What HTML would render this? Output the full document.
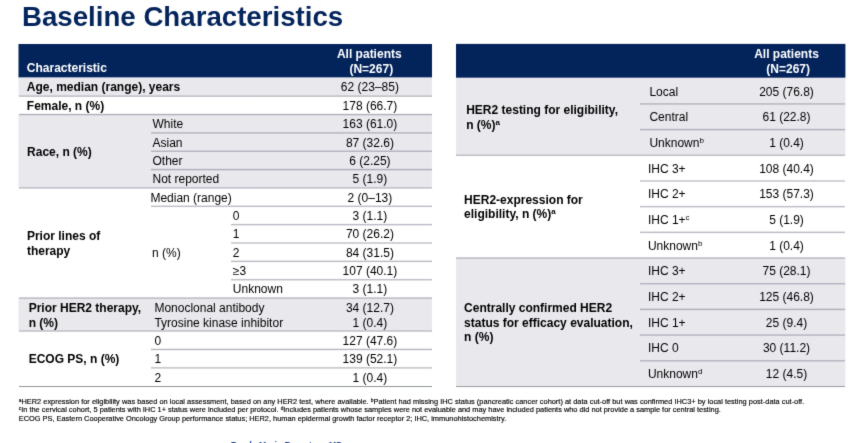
<!DOCTYPE html>
<html><head><meta charset="utf-8"><title>Baseline Characteristics</title>
<style>
html,body{margin:0;padding:0;background:#fff;}
body{width:857px;height:443px;overflow:hidden;position:relative;font-family:"Liberation Sans",Arial,sans-serif;color:#000;font-size:12px;line-height:14px;}
.abs{position:absolute;}
.t{position:absolute;white-space:nowrap;}
.b{font-weight:bold;}
.c{text-align:center;}
.ln{position:absolute;}/*#b2b4c0*/
.bg{position:absolute;background:#e9e8ed;}
.hd{position:absolute;background:#03245b;}
sup{font-size:8px;line-height:0;vertical-align:baseline;position:relative;top:-4.3px;}
.fn{position:absolute;left:18.8px;font-size:7.4px;line-height:8.3px;white-space:nowrap;color:#000;-webkit-text-stroke:0.15px #000;}
.fn sup{font-size:4.8px;top:-1.9px;}
h1{position:absolute;margin:0;left:21.5px;top:-1.4px;font-size:27px;line-height:36px;transform-origin:0 0;transform:scaleX(1.024);font-weight:bold;color:#03245b;white-space:nowrap;}
#pg{position:absolute;left:0;top:0;width:857px;height:443px;overflow:hidden;background:#fff;filter:url(#soft);}
</style></head><body><svg width="0" height="0" style="position:absolute"><filter id="soft" x="0" y="0" width="100%" height="100%" color-interpolation-filters="sRGB"><feConvolveMatrix order="3" kernelMatrix="0.0113 0.0838 0.0113 0.0838 0.6193 0.0838 0.0113 0.0838 0.0113" edgeMode="duplicate" preserveAlpha="true"/></filter></svg><div id="pg">

<h1>Baseline Characteristics</h1>
<svg class="abs" style="left:0;top:0" width="857" height="443"><rect x="18.50" y="44.00" width="413.50" height="33.60" fill="#03245b"/></svg>
<div class="t b" style="left:26.8px;top:61.00px;color:#fff;">Characteristic</div>
<div class="t b" style="left:309.3px;width:120px;top:47.00px;text-align:center;color:#fff;">All patients</div>
<div class="t b" style="left:311.3px;width:120px;top:62.00px;text-align:center;color:#fff;">(N=267)</div>
<svg class="abs" style="left:0;top:0" width="857" height="443"><rect x="18.50" y="77.60" width="413.50" height="18.35" fill="#e9e8ed"/></svg>
<svg class="abs" style="left:0;top:0" width="857" height="443"><rect x="18.50" y="114.30" width="413.50" height="73.40" fill="#e9e8ed"/></svg>
<svg class="abs" style="left:0;top:0" width="857" height="443"><rect x="18.50" y="297.80" width="413.50" height="33.00" fill="#e9e8ed"/></svg>
<div class="ln" style="left:18.5px;top:94px;width:413.5px;height:5px;background:linear-gradient(to bottom,rgba(118,120,138,0) 0.95px,rgba(118,120,138,0.56) 2.20px,rgba(118,120,138,0) 3.45px)"></div>
<div class="ln" style="left:18.5px;top:112px;width:413.5px;height:5px;background:linear-gradient(to bottom,rgba(118,120,138,0) 1.30px,rgba(118,120,138,0.56) 2.55px,rgba(118,120,138,0) 3.80px)"></div>
<div class="ln" style="left:150.7px;top:130px;width:281.3px;height:5px;background:linear-gradient(to bottom,rgba(118,120,138,0) 1.65px,rgba(118,120,138,0.56) 2.90px,rgba(118,120,138,0) 4.15px)"></div>
<div class="ln" style="left:150.7px;top:149px;width:281.3px;height:5px;background:linear-gradient(to bottom,rgba(118,120,138,0) 1.00px,rgba(118,120,138,0.56) 2.25px,rgba(118,120,138,0) 3.50px)"></div>
<div class="ln" style="left:150.7px;top:167px;width:281.3px;height:5px;background:linear-gradient(to bottom,rgba(118,120,138,0) 1.35px,rgba(118,120,138,0.56) 2.60px,rgba(118,120,138,0) 3.85px)"></div>
<div class="ln" style="left:18.5px;top:185px;width:413.5px;height:5px;background:linear-gradient(to bottom,rgba(118,120,138,0) 1.70px,rgba(118,120,138,0.56) 2.95px,rgba(118,120,138,0) 4.20px)"></div>
<div class="ln" style="left:150.7px;top:204px;width:281.3px;height:5px;background:linear-gradient(to bottom,rgba(118,120,138,0) 1.05px,rgba(118,120,138,0.56) 2.30px,rgba(118,120,138,0) 3.55px)"></div>
<div class="ln" style="left:231.0px;top:222px;width:201.0px;height:5px;background:linear-gradient(to bottom,rgba(118,120,138,0) 1.40px,rgba(118,120,138,0.56) 2.65px,rgba(118,120,138,0) 3.90px)"></div>
<div class="ln" style="left:231.0px;top:241px;width:201.0px;height:5px;background:linear-gradient(to bottom,rgba(118,120,138,0) 0.75px,rgba(118,120,138,0.56) 2.00px,rgba(118,120,138,0) 3.25px)"></div>
<div class="ln" style="left:231.0px;top:259px;width:201.0px;height:5px;background:linear-gradient(to bottom,rgba(118,120,138,0) 1.10px,rgba(118,120,138,0.56) 2.35px,rgba(118,120,138,0) 3.60px)"></div>
<div class="ln" style="left:231.0px;top:277px;width:201.0px;height:5px;background:linear-gradient(to bottom,rgba(118,120,138,0) 1.45px,rgba(118,120,138,0.56) 2.70px,rgba(118,120,138,0) 3.95px)"></div>
<div class="ln" style="left:18.5px;top:296px;width:413.5px;height:5px;background:linear-gradient(to bottom,rgba(118,120,138,0) 0.80px,rgba(118,120,138,0.56) 2.05px,rgba(118,120,138,0) 3.30px)"></div>
<div class="ln" style="left:18.5px;top:329px;width:413.5px;height:5px;background:linear-gradient(to bottom,rgba(118,120,138,0) 0.80px,rgba(118,120,138,0.56) 2.05px,rgba(118,120,138,0) 3.30px)"></div>
<div class="ln" style="left:150.7px;top:347px;width:281.3px;height:5px;background:linear-gradient(to bottom,rgba(118,120,138,0) 1.20px,rgba(118,120,138,0.56) 2.45px,rgba(118,120,138,0) 3.70px)"></div>
<div class="ln" style="left:150.7px;top:365px;width:281.3px;height:5px;background:linear-gradient(to bottom,rgba(118,120,138,0) 1.60px,rgba(118,120,138,0.56) 2.85px,rgba(118,120,138,0) 4.10px)"></div>
<div class="ln" style="left:18.5px;top:384px;width:413.5px;height:5px;background:linear-gradient(to bottom,rgba(120,124,130,0) 1.65px,rgba(120,124,130,0.85) 2.55px,rgba(120,124,130,0) 3.45px)"></div>
<div class="t b" style="left:26.8px;top:80.00px;">Age, median (range), years</div>
<div class="t " style="left:309.9px;width:120px;top:80.00px;text-align:center;">62 (23–85)</div>
<div class="t b" style="left:26.8px;top:99.00px;">Female, n (%)</div>
<div class="t " style="left:309.9px;width:120px;top:99.00px;text-align:center;">178 (66.7)</div>
<div class="t b" style="left:27.1px;top:145.00px;">Race, n (%)</div>
<div class="t " style="left:152.5px;top:117.00px;">White</div>
<div class="t " style="left:309.9px;width:120px;top:117.00px;text-align:center;">163 (61.0)</div>
<div class="t " style="left:152.5px;top:136.00px;">Asian</div>
<div class="t " style="left:309.9px;width:120px;top:136.00px;text-align:center;">87 (32.6)</div>
<div class="t " style="left:152.5px;top:154.00px;">Other</div>
<div class="t " style="left:309.9px;width:120px;top:154.00px;text-align:center;">6 (2.25)</div>
<div class="t " style="left:152.5px;top:172.00px;">Not reported</div>
<div class="t " style="left:309.9px;width:120px;top:172.00px;text-align:center;">5 (1.9)</div>
<div class="t b" style="left:26.9px;top:229.00px;">Prior lines of</div>
<div class="t b" style="left:26.9px;top:244.00px;">therapy</div>
<div class="t " style="left:150.4px;top:191.00px;">Median (range)</div>
<div class="t " style="left:309.9px;width:120px;top:191.00px;text-align:center;">2 (0–13)</div>
<div class="t " style="left:152.0px;top:246.00px;">n (%)</div>
<div class="t " style="left:232.8px;top:209.00px;">0</div>
<div class="t " style="left:309.9px;width:120px;top:209.00px;text-align:center;">3 (1.1)</div>
<div class="t " style="left:232.8px;top:227.00px;">1</div>
<div class="t " style="left:309.9px;width:120px;top:227.00px;text-align:center;">70 (26.2)</div>
<div class="t " style="left:232.8px;top:246.00px;">2</div>
<div class="t " style="left:309.9px;width:120px;top:246.00px;text-align:center;">84 (31.5)</div>
<div class="t " style="left:232.8px;top:264.00px;">≥3</div>
<div class="t " style="left:309.9px;width:120px;top:264.00px;text-align:center;">107 (40.1)</div>
<div class="t " style="left:232.8px;top:282.00px;">Unknown</div>
<div class="t " style="left:309.9px;width:120px;top:282.00px;text-align:center;">3 (1.1)</div>
<div class="t b" style="left:28.7px;top:301.00px;">Prior HER2 therapy,</div>
<div class="t b" style="left:28.7px;top:316.00px;">n (%)</div>
<div class="t " style="left:154.4px;top:301.00px;">Monoclonal antibody</div>
<div class="t " style="left:154.4px;top:316.00px;">Tyrosine kinase inhibitor</div>
<div class="t " style="left:309.9px;width:120px;top:301.00px;text-align:center;">34 (12.7)</div>
<div class="t " style="left:309.9px;width:120px;top:316.00px;text-align:center;">1 (0.4)</div>
<div class="t b" style="left:28.7px;top:352.00px;">ECOG PS, n (%)</div>
<div class="t " style="left:154.4px;top:334.00px;">0</div>
<div class="t " style="left:309.9px;width:120px;top:334.00px;text-align:center;">127 (47.6)</div>
<div class="t " style="left:154.4px;top:352.00px;">1</div>
<div class="t " style="left:309.9px;width:120px;top:352.00px;text-align:center;">139 (52.1)</div>
<div class="t " style="left:154.4px;top:371.00px;">2</div>
<div class="t " style="left:309.9px;width:120px;top:371.00px;text-align:center;">1 (0.4)</div>
<svg class="abs" style="left:0;top:0" width="857" height="443"><rect x="456.00" y="43.90" width="389.40" height="33.80" fill="#03245b"/></svg>
<div class="t b" style="left:726.5px;width:120px;top:47.00px;text-align:center;color:#fff;">All patients</div>
<div class="t b" style="left:728.2px;width:120px;top:62.00px;text-align:center;color:#fff;">(N=267)</div>
<svg class="abs" style="left:0;top:0" width="857" height="443"><rect x="456.00" y="78.00" width="389.40" height="77.05" fill="#e9e8ed"/></svg>
<svg class="abs" style="left:0;top:0" width="857" height="443"><rect x="456.00" y="257.78" width="389.40" height="128.42" fill="#e9e8ed"/></svg>
<div class="ln" style="left:639.6px;top:101px;width:205.8px;height:5px;background:linear-gradient(to bottom,rgba(118,120,138,0) 1.68px,rgba(118,120,138,0.56) 2.93px,rgba(118,120,138,0) 4.18px)"></div>
<div class="ln" style="left:639.6px;top:127px;width:205.8px;height:5px;background:linear-gradient(to bottom,rgba(118,120,138,0) 1.37px,rgba(118,120,138,0.56) 2.62px,rgba(118,120,138,0) 3.87px)"></div>
<div class="ln" style="left:639.6px;top:178px;width:205.8px;height:5px;background:linear-gradient(to bottom,rgba(118,120,138,0) 1.73px,rgba(118,120,138,0.56) 2.98px,rgba(118,120,138,0) 4.23px)"></div>
<div class="ln" style="left:639.6px;top:204px;width:205.8px;height:5px;background:linear-gradient(to bottom,rgba(118,120,138,0) 1.42px,rgba(118,120,138,0.56) 2.67px,rgba(118,120,138,0) 3.92px)"></div>
<div class="ln" style="left:639.6px;top:230px;width:205.8px;height:5px;background:linear-gradient(to bottom,rgba(118,120,138,0) 1.10px,rgba(118,120,138,0.56) 2.35px,rgba(118,120,138,0) 3.60px)"></div>
<div class="ln" style="left:639.6px;top:281px;width:205.8px;height:5px;background:linear-gradient(to bottom,rgba(118,120,138,0) 1.47px,rgba(118,120,138,0.56) 2.72px,rgba(118,120,138,0) 3.97px)"></div>
<div class="ln" style="left:639.6px;top:307px;width:205.8px;height:5px;background:linear-gradient(to bottom,rgba(118,120,138,0) 1.15px,rgba(118,120,138,0.56) 2.40px,rgba(118,120,138,0) 3.65px)"></div>
<div class="ln" style="left:639.6px;top:333px;width:205.8px;height:5px;background:linear-gradient(to bottom,rgba(118,120,138,0) 0.83px,rgba(118,120,138,0.56) 2.08px,rgba(118,120,138,0) 3.33px)"></div>
<div class="ln" style="left:639.6px;top:358px;width:205.8px;height:5px;background:linear-gradient(to bottom,rgba(118,120,138,0) 1.52px,rgba(118,120,138,0.56) 2.77px,rgba(118,120,138,0) 4.02px)"></div>
<div class="ln" style="left:456px;top:153px;width:389.4px;height:5px;background:linear-gradient(to bottom,rgba(118,120,138,0) 1.05px,rgba(118,120,138,0.56) 2.30px,rgba(118,120,138,0) 3.55px)"></div>
<div class="ln" style="left:456px;top:256px;width:389.4px;height:5px;background:linear-gradient(to bottom,rgba(118,120,138,0) 0.78px,rgba(118,120,138,0.56) 2.03px,rgba(118,120,138,0) 3.28px)"></div>
<div class="ln" style="left:456px;top:384px;width:389.4px;height:5px;background:linear-gradient(to bottom,rgba(120,124,130,0) 1.75px,rgba(120,124,130,0.85) 2.65px,rgba(120,124,130,0) 3.55px)"></div>
<div class="t " style="left:649.4px;top:85.00px;">Local</div>
<div class="t " style="left:726.5px;width:120px;top:85.00px;text-align:center;">205 (76.8)</div>
<div class="t " style="left:649.4px;top:110.00px;">Central</div>
<div class="t " style="left:726.5px;width:120px;top:110.00px;text-align:center;">61 (22.8)</div>
<div class="t " style="left:649.4px;top:136.00px;">Unknown<sup>b</sup></div>
<div class="t " style="left:726.5px;width:120px;top:136.00px;text-align:center;">1 (0.4)</div>
<div class="t " style="left:647.9px;top:162.00px;">IHC 3+</div>
<div class="t " style="left:726.5px;width:120px;top:162.00px;text-align:center;">108 (40.4)</div>
<div class="t " style="left:647.9px;top:187.00px;">IHC 2+</div>
<div class="t " style="left:726.5px;width:120px;top:187.00px;text-align:center;">153 (57.3)</div>
<div class="t " style="left:647.9px;top:213.00px;">IHC 1+<sup>c</sup></div>
<div class="t " style="left:726.5px;width:120px;top:213.00px;text-align:center;">5 (1.9)</div>
<div class="t " style="left:647.9px;top:239.00px;">Unknown<sup>b</sup></div>
<div class="t " style="left:726.5px;width:120px;top:239.00px;text-align:center;">1 (0.4)</div>
<div class="t " style="left:647.9px;top:264.00px;">IHC 3+</div>
<div class="t " style="left:726.5px;width:120px;top:264.00px;text-align:center;">75 (28.1)</div>
<div class="t " style="left:647.9px;top:290.00px;">IHC 2+</div>
<div class="t " style="left:726.5px;width:120px;top:290.00px;text-align:center;">125 (46.8)</div>
<div class="t " style="left:647.9px;top:316.00px;">IHC 1+</div>
<div class="t " style="left:726.5px;width:120px;top:316.00px;text-align:center;">25 (9.4)</div>
<div class="t " style="left:647.9px;top:341.00px;">IHC 0</div>
<div class="t " style="left:726.5px;width:120px;top:341.00px;text-align:center;">30 (11.2)</div>
<div class="t " style="left:647.9px;top:367.00px;">Unknown<sup>d</sup></div>
<div class="t " style="left:726.5px;width:120px;top:367.00px;text-align:center;">12 (4.5)</div>
<div class="t b" style="left:466.2px;top:103.00px;">HER2 testing for eligibility,</div>
<div class="t b" style="left:466.2px;top:118.00px;">n (%)<sup>a</sup></div>
<div class="t b" style="left:464.1px;top:193.00px;">HER2-expression for</div>
<div class="t b" style="left:464.1px;top:207.00px;">eligibility, n (%)<sup>a</sup></div>
<div class="t b" style="left:464.1px;top:301.00px;">Centrally confirmed HER2</div>
<div class="t b" style="left:464.1px;top:316.00px;">status for efficacy evaluation,</div>
<div class="t b" style="left:464.1px;top:330.00px;">n (%)</div>
<div class="fn" style="top:397.6px;word-spacing:0.06px"><sup>a</sup>HER2 expression for eligibility was based on local assessment, based on any HER2 test, where available. <sup>b</sup>Patient had missing IHC status (pancreatic cancer cohort) at data cut-off but was confirmed IHC3+ by local testing post-data cut-off.</div>
<div class="fn" style="top:405.6px"><sup>c</sup>In the cervical cohort, 5 patients with IHC 1+ status were included per protocol. <sup>d</sup>Includes patients whose samples were not evaluable and may have included patients who did not provide a sample for central testing.</div>
<div class="fn" style="top:414.6px">ECOG PS, Eastern Cooperative Oncology Group performance status; HER2, human epidermal growth factor receptor 2; IHC, immunohistochemistry.</div>
<div class="t b" style="left:230.8px;top:440px;font-size:8.63px;line-height:10px;color:#2f4f94">Funda Meric-Bernstam, MD</div>
</div></body></html>
